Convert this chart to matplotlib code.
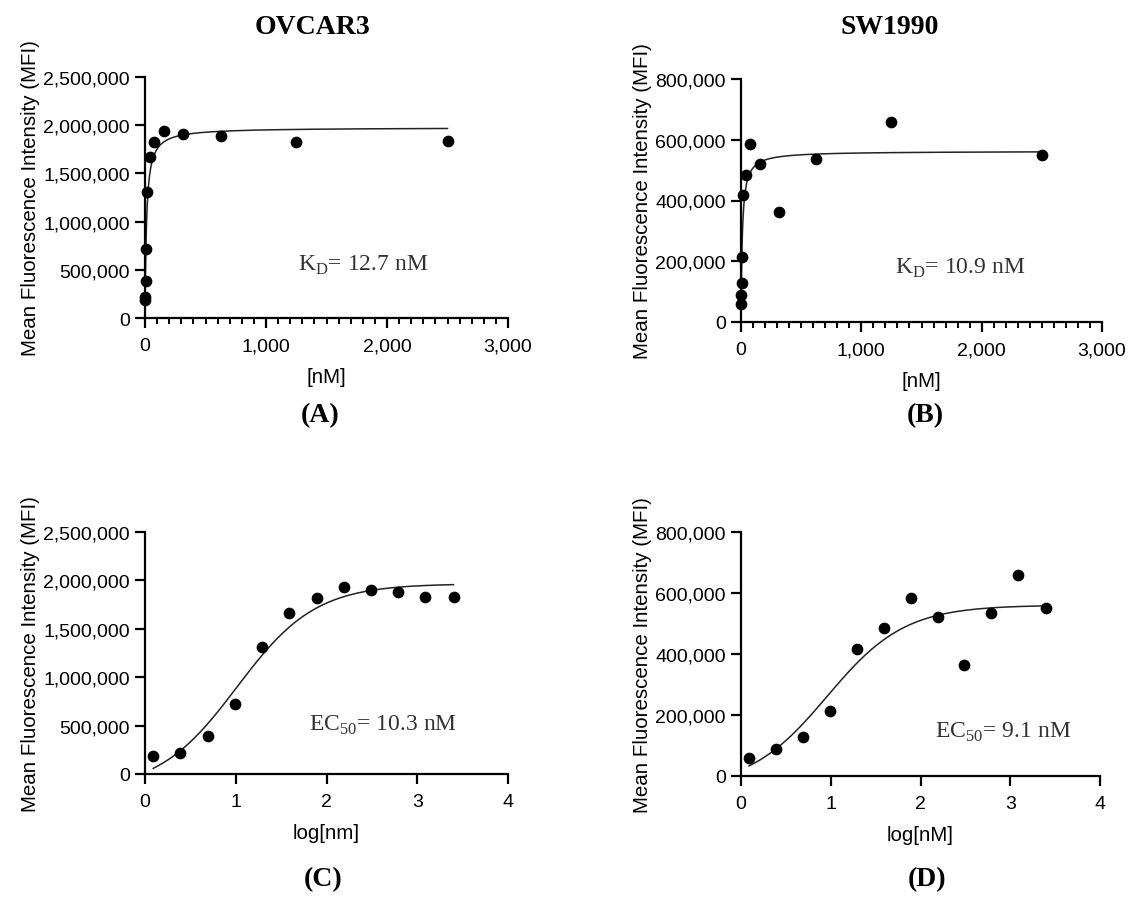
"""
Saturation binding (KD) and dose-response (EC50) curves for OVCAR3 and SW1990.
"""
import numpy as np
import matplotlib.pyplot as plt
from matplotlib.ticker import FuncFormatter, MultipleLocator

# twofold dilution series, nM
conc_nm = [1.22, 2.44, 4.88, 9.77, 19.53, 39.06, 78.13, 156.25, 312.5, 625, 1250, 2500]
log_conc = [0.09, 0.39, 0.69, 0.99, 1.29, 1.59, 1.89, 2.19, 2.49, 2.79, 3.09, 3.40]

# mean fluorescence intensity
mfi_ovcar3 = [186000, 213000, 389000, 719000, 1310000, 1668000,
              1823000, 1936000, 1905000, 1884000, 1826000, 1833000]
mfi_sw1990 = [58000, 90000, 128000, 214000, 418000, 484000,
              585000, 521000, 363000, 536000, 659000, 551000]

# fitted parameters shown on the figure
kd_ovcar3, bmax_ovcar3 = 12.7, 1976000
kd_sw1990, bmax_sw1990 = 10.9, 562500
ec50_ovcar3, top_ovcar3, bottom_ovcar3 = 10.3, 1965000, -170000
ec50_sw1990, top_sw1990, bottom_sw1990 = 9.1, 560000, -38000

W, H = 1129, 904
serif = ['Liberation Serif', 'DejaVu Serif']
sans = ['Liberation Sans', 'DejaVu Sans']
plt.rcParams['font.family'] = sans

fig = plt.figure(figsize=(W / 100, H / 100), dpi=100)


def make_axes(left, right, top, bottom):
    # pixel box -> figure fraction
    return fig.add_axes([left / W, 1 - bottom / H, (right - left) / W, (bottom - top) / H])


def style(ax):
    for side in ('top', 'right'):
        ax.spines[side].set_visible(False)
    for side in ('left', 'bottom'):
        ax.spines[side].set_linewidth(1.6)
    ax.tick_params(which='major', length=7, width=1.6, labelsize=14, pad=4)
    ax.tick_params(axis='x', which='major', pad=7)
    ax.tick_params(which='minor', length=4.5, width=1.4)
    ax.yaxis.set_major_formatter(FuncFormatter(lambda v, p: f'{int(v):,}'))
    ax.set_ylabel('Mean Fluorescence Intensity (MFI)', fontsize=14.8, labelpad=2)


def note(ax, x_px, y_px, label):
    # annotation placed by its left edge / vertical centre in pixels
    fig.text(x_px / W, 1 - y_px / H, label, fontsize=17, family=serif,
             color='#333333', va='center_baseline')


def binding(ax, y, kd, bmax, ymax, ystep):
    xs = np.linspace(0, 2500, 2000)
    ax.plot(xs, bmax * xs / (kd + xs), color='#222222', lw=1.1)
    ax.scatter(conc_nm, y, s=55, color='black', zorder=3, clip_on=False)
    ax.set_xlim(0, 3000)
    ax.set_ylim(0, ymax)
    ax.xaxis.set_major_locator(MultipleLocator(1000))
    ax.xaxis.set_minor_locator(MultipleLocator(100))
    ax.xaxis.set_major_formatter(FuncFormatter(lambda v, p: f'{int(v):,}'))
    ax.yaxis.set_major_locator(MultipleLocator(ystep))
    ax.set_xlabel('[nM]', fontsize=14.8, labelpad=9)


def dose(ax, y, ec50, top, bottom, ymax, ystep, xlabel):
    xs = np.linspace(log_conc[0], log_conc[-1], 400)
    fit = bottom + (top - bottom) / (1 + 10 ** (np.log10(ec50) - xs))
    ax.plot(xs, fit, color='#222222', lw=1.1)
    ax.scatter(log_conc, y, s=55, color='black', zorder=3, clip_on=False)
    ax.set_xlim(0, 4)
    ax.set_ylim(0, ymax)
    ax.xaxis.set_major_locator(MultipleLocator(1))
    ax.yaxis.set_major_locator(MultipleLocator(ystep))
    ax.set_xlabel(xlabel, fontsize=14.8, labelpad=9)


ax_a = make_axes(145, 508, 78, 319)
style(ax_a)
binding(ax_a, mfi_ovcar3, kd_ovcar3, bmax_ovcar3, 2500000, 500000)
note(ax_a, 298, 262, r'K$_\mathregular{D}$= 12.7 nM')

ax_b = make_axes(741, 1102, 80, 323)
style(ax_b)
binding(ax_b, mfi_sw1990, kd_sw1990, bmax_sw1990, 800000, 200000)
note(ax_b, 895, 265, r'K$_\mathregular{D}$= 10.9 nM')

ax_c = make_axes(145, 508, 533, 775)
style(ax_c)
dose(ax_c, mfi_ovcar3, ec50_ovcar3, top_ovcar3, bottom_ovcar3, 2500000, 500000, 'log[nm]')
note(ax_c, 309, 722, r'EC$_\mathregular{50}$= 10.3 nM')

ax_d = make_axes(741, 1100, 533, 777)
style(ax_d)
dose(ax_d, mfi_sw1990, ec50_sw1990, top_sw1990, bottom_sw1990, 800000, 200000, 'log[nM]')
note(ax_d, 935, 729, r'EC$_\mathregular{50}$= 9.1 nM')

# titles and panel letters
bold = dict(family=serif, fontweight='bold', fontsize=20, ha='center', va='center')
fig.text(312 / W, 1 - 28 / H, 'OVCAR3', **bold)
fig.text(890 / W, 1 - 28 / H, 'SW1990', **bold)
fig.text(320 / W, 1 - 416 / H, '(A)', **bold)
fig.text(925 / W, 1 - 416 / H, '(B)', **bold)
fig.text(323 / W, 1 - 880 / H, '(C)', **bold)
fig.text(927 / W, 1 - 880 / H, '(D)', **bold)

fig.savefig('out.png', dpi=100)
